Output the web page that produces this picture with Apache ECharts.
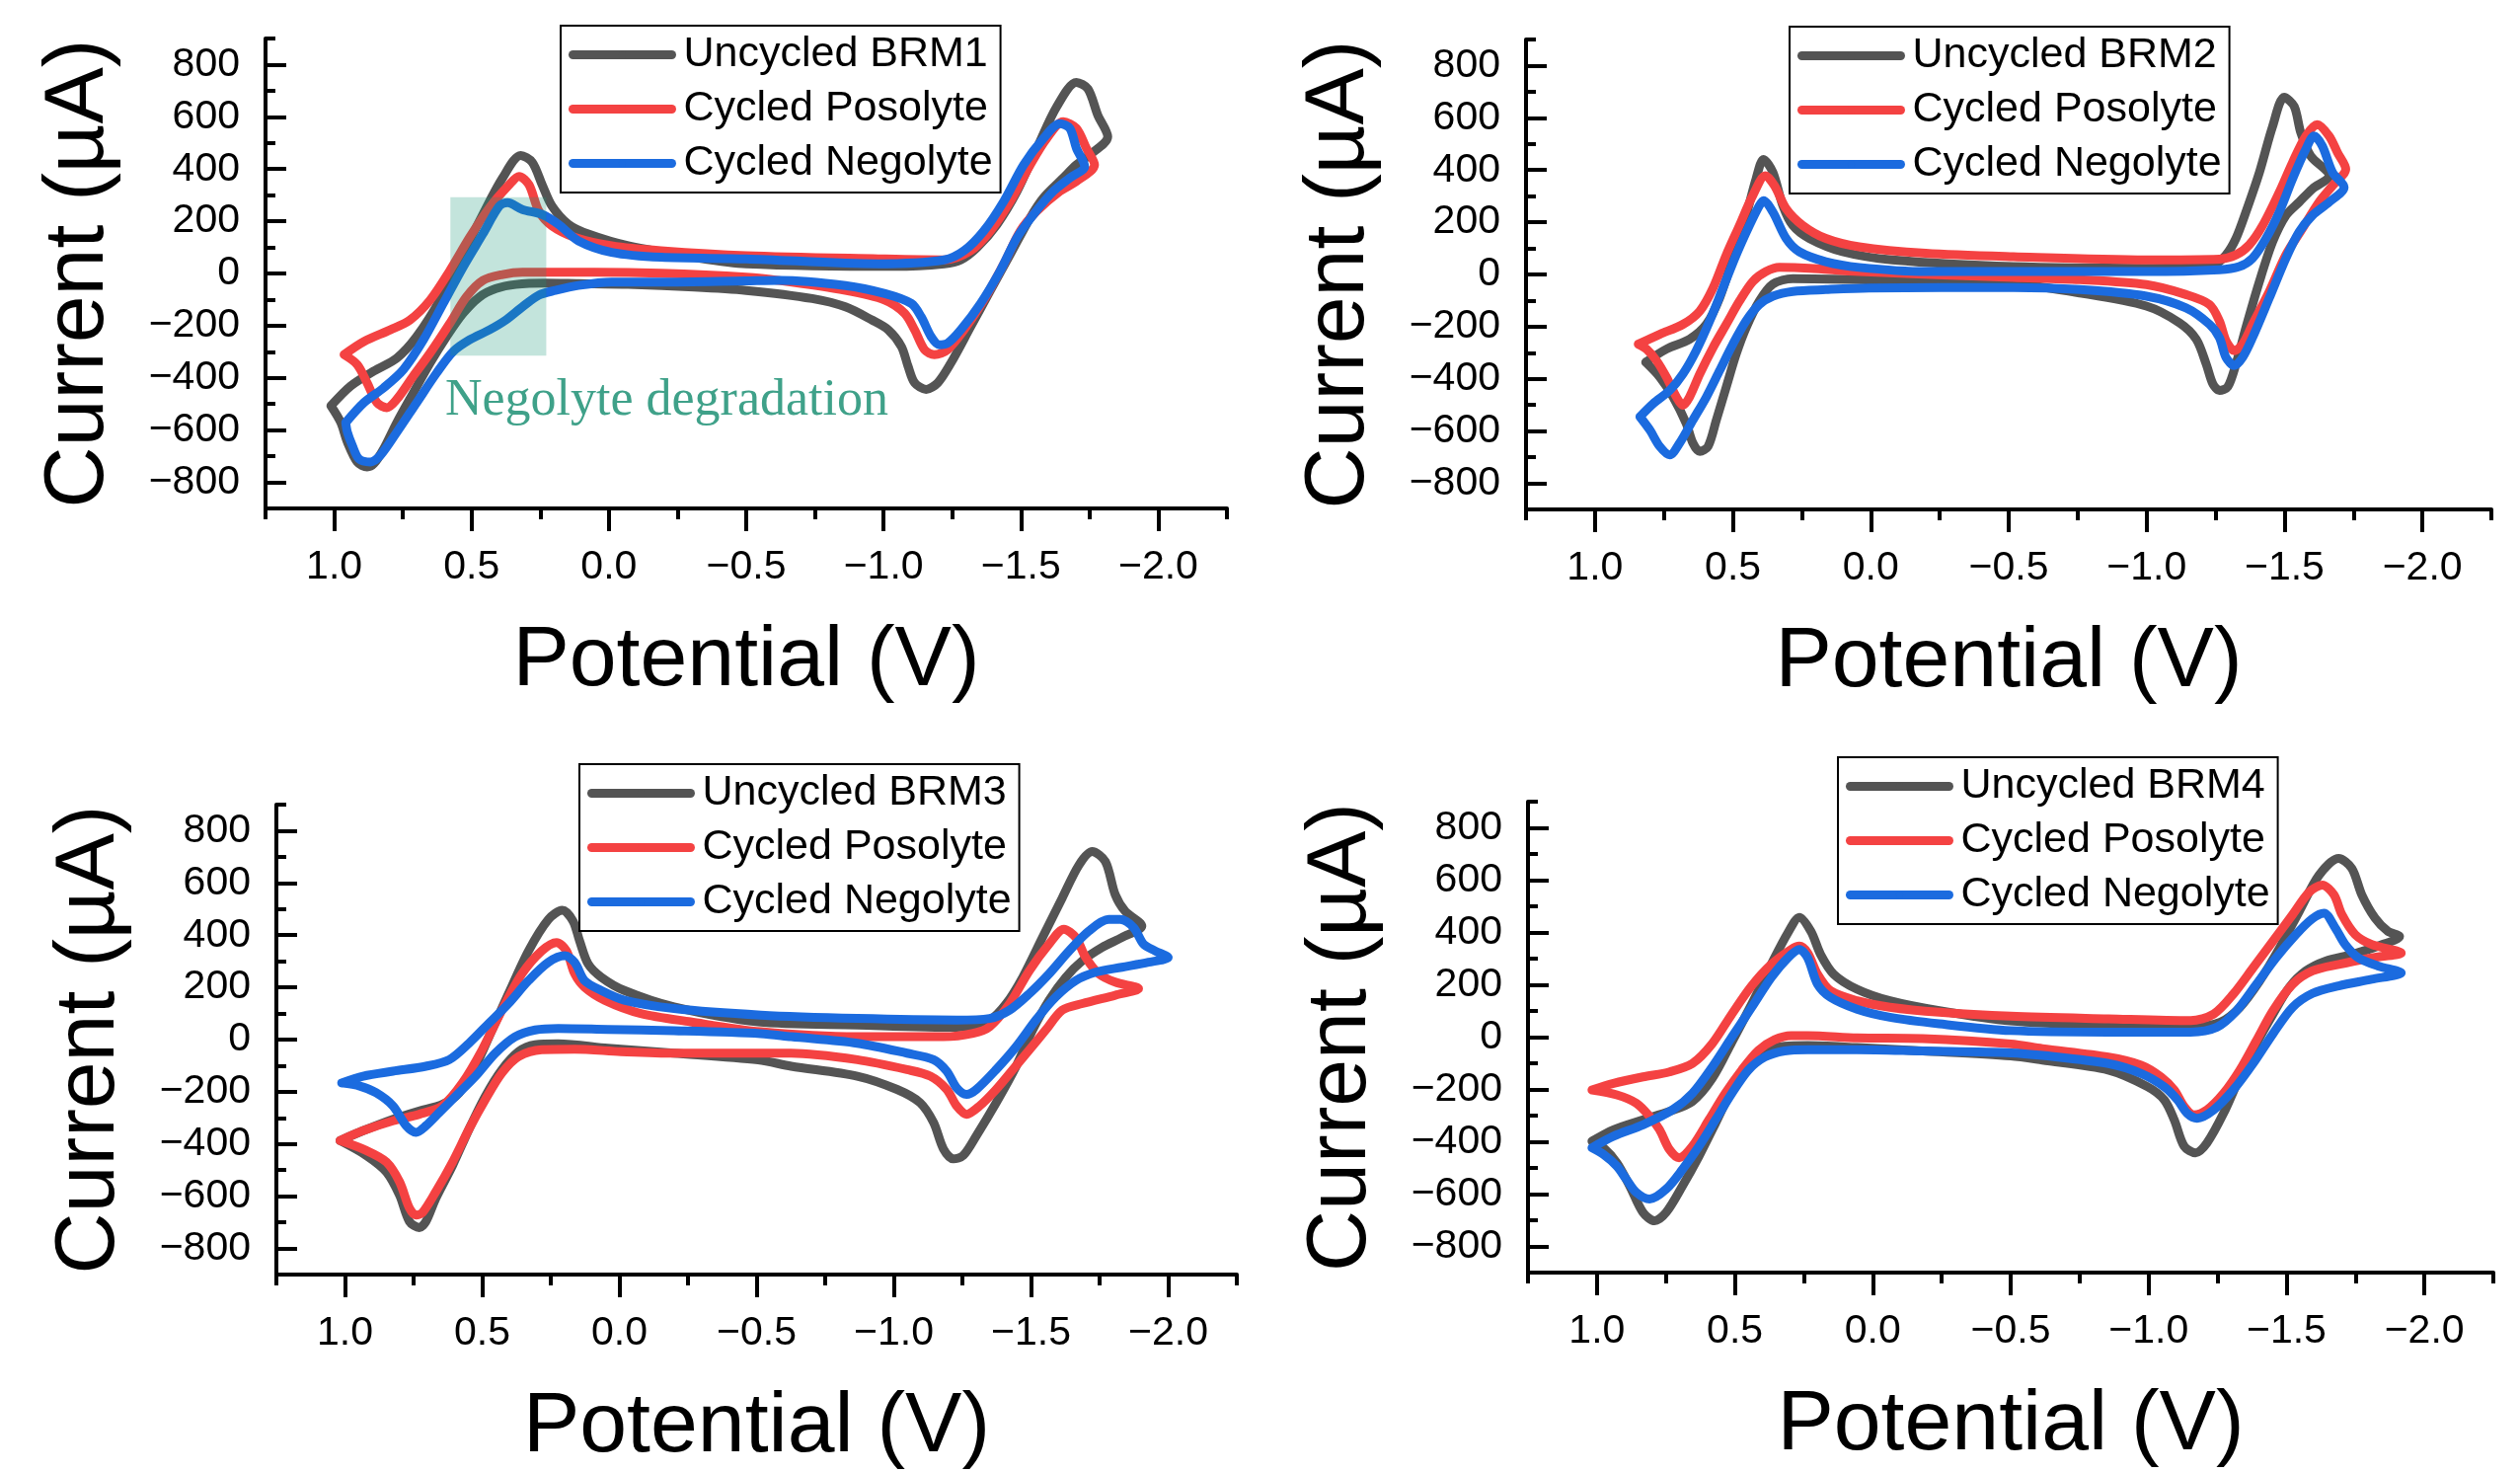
<!DOCTYPE html>
<html><head><meta charset="utf-8">
<script src="https://cdn.jsdelivr.net/npm/echarts@6/dist/echarts.min.js"></script>
<style>html,body{margin:0;padding:0;background:#fff;}#c{width:2553px;height:1492px;}</style>
</head><body><div id="c"></div>
<script>
// ---- tick values ----
const xMajorTicks = [1.0, 0.5, 0, -0.5, -1.0, -1.5, -2.0];
const xMinorTicks = [1.25, 0.75, 0.25, -0.25, -0.75, -1.25, -1.75, -2.25];
const yMajorTicks = [-800, -600, -400, -200, 0, 200, 400, 600, 800];
const yMinorTicks = [-900, -700, -500, -300, -100, 100, 300, 500, 700, 900];
const seriesNames = ['Cycled Posolyte', 'Cycled Negolyte'];
const uncycledNames = ['Uncycled BRM1', 'Uncycled BRM2', 'Uncycled BRM3', 'Uncycled BRM4'];

// ---- panel 1 (BRM1) : [potential V, current uA] ----
const brm1Uncycled = [[1.012,-507],[0.94,-431],[0.856,-374],[0.772,-324],[0.70,-242],[0.615,-102],[0.531,75],[0.459,226],[0.387,366],[0.321,452],[0.279,426],[0.243,340],[0.207,258],[0.147,188],[0.075,151],[-0.07,106],[-0.31,62],[-0.5,37],[-1.041,27],[-1.221,37],[-1.281,52],[-1.341,100],[-1.413,188],[-1.486,315],[-1.558,479],[-1.63,638],[-1.702,732],[-1.744,707],[-1.78,606],[-1.816,524],
[-1.75,454],[-1.702,416],[-1.654,366],[-1.582,290],[-1.534,214],[-1.462,75],[-1.389,-65],[-1.317,-204],[-1.245,-343],[-1.197,-419],[-1.155,-444],[-1.113,-419],[-1.089,-355],[-1.065,-280],[-1.017,-216],[-0.957,-178],[-0.861,-128],[-0.74,-96],[-0.5,-65],[-0.31,-52],[-0.07,-42],[0.111,-39],[0.231,-37],[0.339,-42],[0.411,-58],[0.471,-90],[0.531,-153],[0.591,-242],[0.651,-343],[0.712,-457],[0.772,-571],[0.82,-672],[0.856,-729],[0.88,-741],[0.916,-722],[0.952,-646],[0.976,-571],[1.012,-507]];
const brm1Posolyte = [[0.964,-311],[0.892,-261],[0.796,-216],[0.724,-178],[0.651,-102],[0.579,11],[0.507,138],[0.435,252],[0.363,340],[0.327,372],[0.291,340],[0.255,239],[0.207,182],[0.123,138],[-0.01,106],[-0.19,87],[-0.5,68],[-0.981,56],[-1.221,52],[-1.317,87],[-1.389,163],[-1.462,277],[-1.534,416],[-1.594,517],[-1.654,581],[-1.702,556],[-1.738,480],[-1.768,416],
[-1.702,353],[-1.642,315],[-1.558,239],[-1.498,163],[-1.438,37],[-1.365,-102],[-1.293,-216],[-1.233,-292],[-1.185,-311],[-1.149,-292],[-1.113,-216],[-1.077,-153],[-1.005,-102],[-0.861,-65],[-0.62,-27],[-0.5,-14],[-0.19,1],[0.05,5],[0.231,5],[0.315,5],[0.387,-4],[0.459,-27],[0.519,-90],[0.579,-191],[0.651,-305],[0.712,-393],[0.772,-482],[0.808,-514],[0.844,-495],[0.88,-419],[0.916,-349],[0.964,-311]];
const brm1Negolyte = [[0.958,-571],[0.892,-495],[0.82,-438],[0.748,-368],[0.675,-254],[0.603,-115],[0.531,24],[0.459,151],[0.399,258],[0.369,271],[0.315,245],[0.243,226],[0.183,188],[0.111,125],[-0.01,81],[-0.19,62],[-0.5,56],[-0.981,37],[-1.221,52],[-1.293,87],[-1.365,163],[-1.438,277],[-1.51,416],[-1.582,517],[-1.642,574],[-1.678,556],[-1.702,480],[-1.732,410],
[-1.678,366],[-1.618,315],[-1.546,226],[-1.486,138],[-1.425,11],[-1.353,-115],[-1.281,-216],[-1.233,-267],[-1.203,-273],[-1.173,-242],[-1.137,-166],[-1.101,-115],[-1.005,-77],[-0.861,-46],[-0.62,-26],[-0.5,-28],[-0.19,-33],[-0.01,-33],[0.111,-46],[0.195,-65],[0.255,-83],[0.315,-128],[0.375,-178],[0.435,-216],[0.507,-254],[0.567,-299],[0.627,-381],[0.7,-495],[0.772,-608],[0.832,-697],[0.868,-722],[0.91,-710],[0.934,-659],[0.952,-608],[0.958,-571]];
const degradationBox = [[0.577, 292], [0.228, -315]];
const degradationLabel = [[0.60, -490]];

// ---- panel 2 (BRM2) ----
const brm2Uncycled = [[0.816,-336],[0.741,-286],[0.657,-248],[0.596,-191],[0.548,-90],[0.5,62],[0.452,226],[0.416,366],[0.389,441],[0.355,391],[0.319,264],[0.283,188],[0.223,138],[0.102,87],[-0.078,56],[-0.517,30],[-0.999,24],[-1.24,34],[-1.288,75],[-1.324,138],[-1.36,239],[-1.409,391],[-1.457,568],[-1.499,679],[-1.535,644],[-1.559,543],[-1.595,454],[-1.662,378],
[-1.601,328],[-1.553,277],[-1.505,226],[-1.457,125],[-1.409,-27],[-1.36,-204],[-1.324,-343],[-1.294,-431],[-1.264,-444],[-1.24,-419],[-1.216,-343],[-1.18,-248],[-1.119,-185],[-0.999,-121],[-0.758,-71],[-0.517,-37],[0.042,-20],[0.283,-16],[0.355,-37],[0.404,-102],[0.452,-204],[0.488,-305],[0.524,-431],[0.56,-558],[0.59,-659],[0.62,-678],[0.645,-646],[0.669,-571],[0.717,-469],[0.765,-393],[0.816,-336]];
const brm2Posolyte = [[0.843,-267],[0.765,-229],[0.681,-191],[0.62,-140],[0.572,-52],[0.524,75],[0.476,188],[0.428,302],[0.382,378],[0.349,340],[0.307,252],[0.247,188],[0.163,138],[0.042,106],[-0.199,81],[-0.517,68],[-0.999,56],[-1.264,59],[-1.324,75],[-1.372,113],[-1.421,188],[-1.481,315],[-1.529,429],[-1.577,530],[-1.619,574],[-1.662,530],[-1.692,467],[-1.722,404],
[-1.674,340],[-1.625,277],[-1.565,176],[-1.505,75],[-1.445,-65],[-1.384,-191],[-1.348,-267],[-1.318,-292],[-1.288,-254],[-1.264,-178],[-1.228,-115],[-1.143,-77],[-0.999,-39],[-0.758,-20],[-0.517,-11],[0.042,11],[0.223,24],[0.331,27],[0.38,11],[0.428,-27],[0.476,-102],[0.524,-191],[0.572,-280],[0.62,-381],[0.657,-469],[0.681,-501],[0.705,-469],[0.741,-393],[0.777,-330],[0.813,-286],[0.843,-267]];
const brm2Negolyte = [[0.837,-545],[0.789,-495],[0.729,-444],[0.681,-381],[0.633,-292],[0.584,-178],[0.536,-52],[0.488,75],[0.44,188],[0.404,264],[0.389,283],[0.355,239],[0.307,138],[0.259,87],[0.163,49],[0.042,27],[-0.199,11],[-0.517,11],[-0.999,11],[-1.264,18],[-1.336,30],[-1.384,62],[-1.433,138],[-1.481,239],[-1.529,366],[-1.577,479],[-1.607,530],[-1.637,492],[-1.674,391],[-1.716,334],
[-1.662,277],[-1.601,226],[-1.553,163],[-1.505,62],[-1.445,-90],[-1.384,-242],[-1.348,-318],[-1.318,-349],[-1.288,-318],[-1.264,-242],[-1.228,-191],[-1.143,-128],[-0.999,-83],[-0.758,-58],[-0.517,-50],[0.006,-52],[0.163,-58],[0.283,-65],[0.355,-83],[0.404,-115],[0.452,-178],[0.5,-267],[0.548,-368],[0.596,-469],[0.645,-558],[0.693,-646],[0.729,-691],[0.765,-659],[0.801,-596],[0.837,-545]];

// ---- panel 3 (BRM3) ----
const brm3Uncycled = [[1.018,-387],[0.934,-349],[0.825,-305],[0.729,-273],[0.645,-248],[0.584,-204],[0.524,-102],[0.464,37],[0.404,176],[0.331,340],[0.259,460],[0.208,495],[0.169,454],[0.145,378],[0.114,290],[0.066,239],[-0.018,188],[-0.199,125],[-0.506,68],[-0.867,56],[-1.229,47],[-1.349,75],[-1.41,138],[-1.47,239],[-1.542,391],[-1.614,543],[-1.675,669],[-1.723,720],[-1.771,682],[-1.807,555],[-1.843,492],[-1.904,435],
[-1.831,391],[-1.759,353],[-1.687,302],[-1.627,239],[-1.566,151],[-1.506,37],[-1.446,-102],[-1.373,-242],[-1.301,-368],[-1.253,-444],[-1.217,-457],[-1.181,-419],[-1.145,-318],[-1.096,-242],[-1.012,-191],[-0.867,-140],[-0.626,-102],[-0.506,-78],[-0.199,-52],[0.042,-33],[0.223,-16],[0.307,-20],[0.367,-46],[0.428,-115],[0.488,-216],[0.548,-343],[0.608,-482],[0.669,-608],[0.705,-697],[0.729,-720],[0.765,-697],[0.801,-596],[0.849,-507],[0.922,-444],[1.018,-387]];
const brm3Posolyte = [[1.018,-387],[0.934,-349],[0.825,-311],[0.729,-286],[0.645,-254],[0.572,-166],[0.5,-39],[0.428,113],[0.355,252],[0.283,340],[0.229,372],[0.193,340],[0.163,252],[0.127,201],[0.054,151],[-0.078,100],[-0.259,68],[-0.515,30],[-0.867,11],[-1.181,11],[-1.289,24],[-1.349,49],[-1.422,138],[-1.494,264],[-1.566,366],[-1.62,423],[-1.663,391],[-1.699,315],[-1.747,252],[-1.807,220],[-1.892,195],
[-1.807,170],[-1.687,138],[-1.614,113],[-1.554,37],[-1.494,-39],[-1.434,-115],[-1.373,-191],[-1.313,-254],[-1.265,-286],[-1.229,-254],[-1.193,-191],[-1.133,-140],[-1.048,-115],[-0.867,-77],[-0.626,-52],[-0.515,-52],[-0.199,-52],[-0.006,-46],[0.163,-37],[0.283,-39],[0.367,-65],[0.428,-128],[0.488,-229],[0.548,-343],[0.608,-469],[0.669,-583],[0.717,-662],[0.741,-672],[0.765,-646],[0.801,-545],[0.849,-469],[0.922,-425],[1.018,-387]];
const brm3Negolyte = [[1.012,-166],[0.934,-140],[0.825,-121],[0.705,-102],[0.62,-77],[0.548,-14],[0.476,62],[0.404,138],[0.331,226],[0.259,296],[0.199,321],[0.163,296],[0.127,226],[0.066,188],[-0.018,151],[-0.199,119],[-0.515,94],[-0.867,81],[-1.229,75],[-1.349,81],[-1.422,113],[-1.494,176],[-1.566,252],[-1.639,340],[-1.711,416],[-1.783,460],[-1.825,460],[-1.874,429],[-1.91,366],[-1.952,340],[-2.0,315],
[-1.928,296],[-1.831,277],[-1.735,258],[-1.663,226],[-1.59,163],[-1.518,75],[-1.446,-27],[-1.373,-115],[-1.301,-191],[-1.265,-210],[-1.229,-185],[-1.193,-121],[-1.145,-77],[-1.048,-52],[-0.867,-14],[-0.626,11],[-0.515,23],[-0.199,34],[0.042,39],[0.223,43],[0.307,37],[0.38,11],[0.452,-52],[0.524,-140],[0.596,-216],[0.657,-280],[0.705,-330],[0.741,-355],[0.777,-330],[0.825,-254],[0.886,-204],[0.946,-178],[1.012,-166]];

// ---- panel 4 (BRM4) ----
const brm4Uncycled = [[1.018,-398],[0.94,-354],[0.833,-316],[0.737,-284],[0.654,-246],[0.582,-158],[0.511,-19],[0.439,126],[0.368,278],[0.308,398],[0.266,458],[0.224,404],[0.189,316],[0.141,240],[0.057,183],[-0.062,139],[-0.241,101],[-0.5,62],[-0.854,44],[-1.152,38],[-1.26,57],[-1.331,114],[-1.403,215],[-1.475,341],[-1.546,480],[-1.618,619],[-1.689,683],[-1.737,645],[-1.773,544],[-1.821,455],[-1.868,404],[-1.91,385],
[-1.832,348],[-1.737,316],[-1.642,291],[-1.57,253],[-1.51,190],[-1.451,88],[-1.391,-25],[-1.331,-152],[-1.272,-291],[-1.212,-404],[-1.17,-442],[-1.129,-417],[-1.093,-316],[-1.057,-240],[-0.997,-190],[-0.854,-126],[-0.615,-88],[-0.5,-72],[-0.181,-53],[0.057,-40],[0.236,-32],[0.32,-35],[0.391,-51],[0.451,-101],[0.511,-202],[0.57,-329],[0.63,-455],[0.69,-569],[0.749,-670],[0.791,-702],[0.833,-670],[0.881,-569],[0.928,-480],[0.976,-423],[1.018,-398]];
const brm4Posolyte = [[1.018,-202],[0.94,-177],[0.833,-152],[0.737,-133],[0.654,-101],[0.582,-25],[0.511,88],[0.439,196],[0.368,278],[0.296,335],[0.266,348],[0.236,322],[0.2,240],[0.153,177],[0.057,139],[-0.062,114],[-0.241,95],[-0.5,80],[-0.854,70],[-1.152,63],[-1.236,88],[-1.307,164],[-1.379,265],[-1.451,367],[-1.522,468],[-1.582,554],[-1.63,581],[-1.672,544],[-1.701,468],[-1.749,392],[-1.809,354],[-1.916,322],
[-1.809,303],[-1.689,278],[-1.594,253],[-1.522,202],[-1.451,101],[-1.391,-13],[-1.331,-126],[-1.272,-215],[-1.212,-278],[-1.164,-297],[-1.129,-265],[-1.093,-202],[-1.045,-152],[-0.973,-107],[-0.854,-76],[-0.615,-44],[-0.5,-26],[-0.181,-6],[0.057,-3],[0.236,6],[0.296,6],[0.356,-10],[0.415,-51],[0.475,-126],[0.535,-215],[0.594,-316],[0.654,-417],[0.702,-461],[0.737,-430],[0.773,-354],[0.809,-303],[0.857,-253],[0.928,-221],[1.018,-202]];
const brm4Negolyte = [[1.018,-423],[0.94,-379],[0.833,-335],[0.726,-278],[0.654,-215],[0.582,-114],[0.511,0],[0.439,114],[0.368,228],[0.308,303],[0.266,335],[0.236,303],[0.2,202],[0.153,152],[0.057,107],[-0.062,76],[-0.241,51],[-0.5,25],[-0.854,19],[-1.152,19],[-1.248,38],[-1.319,101],[-1.391,202],[-1.462,303],[-1.534,392],[-1.594,453],[-1.636,474],[-1.677,417],[-1.713,354],[-1.761,303],[-1.832,272],[-1.916,246],
[-1.809,221],[-1.689,196],[-1.594,167],[-1.522,114],[-1.451,13],[-1.379,-101],[-1.307,-202],[-1.236,-278],[-1.176,-310],[-1.14,-291],[-1.105,-240],[-1.057,-190],[-0.973,-139],[-0.854,-101],[-0.615,-70],[-0.5,-60],[-0.181,-53],[0.057,-48],[0.236,-48],[0.32,-53],[0.391,-76],[0.451,-126],[0.511,-215],[0.57,-316],[0.63,-417],[0.69,-506],[0.749,-581],[0.809,-619],[0.857,-594],[0.893,-544],[0.928,-493],[0.976,-449],[1.018,-423]];

const panels = [
  {uncycled: brm1Uncycled, pos: brm1Posolyte, neg: brm1Negolyte},
  {uncycled: brm2Uncycled, pos: brm2Posolyte, neg: brm2Negolyte},
  {uncycled: brm3Uncycled, pos: brm3Posolyte, neg: brm3Negolyte},
  {uncycled: brm4Uncycled, pos: brm4Posolyte, neg: brm4Negolyte}
];

// ---- layout & style ----
const grids = [
  {left: 269, top: 39, width: 974, height: 476},
  {left: 1546, top: 40, width: 978, height: 476},
  {left: 280, top: 815, width: 973, height: 476},
  {left: 1548, top: 812, width: 978, height: 477}
];
const legendPos = [{left: 568, top: 26}, {left: 1813, top: 27}, {left: 587, top: 774}, {left: 1862, top: 767}];
const colors = {uncycled: '#545454', pos: '#F44242', neg: '#1B6BDF'};
const FONT = '"Liberation Sans", Arial, sans-serif';
const fmtMinus = v => String(v).replace('-', '\u2212');

const xAxes = [], yAxes = [], series = [], legends = [];
grids.forEach((g, i) => {
  xAxes.push({
    gridIndex: i, type: 'value', min: -2.25, max: 1.25, inverse: true, position: 'bottom',
    name: 'Potential (V)', nameLocation: 'middle', nameGap: 112,
    nameTextStyle: {fontFamily: FONT, fontSize: 86, color: '#000'},
    axisLine: {show: true, onZero: false, lineStyle: {color: '#000', width: 4}},
    axisTick: {show: true, inside: false, length: 23, customValues: xMajorTicks, lineStyle: {color: '#000', width: 4}},
    axisLabel: {show: true, customValues: xMajorTicks, margin: 39, fontFamily: FONT, fontSize: 41, color: '#000',
      formatter: v => fmtMinus(Number(v).toFixed(1))},
    splitLine: {show: false}
  });
  xAxes.push({
    gridIndex: i, type: 'value', min: -2.25, max: 1.25, inverse: true, position: 'bottom',
    axisLine: {show: false, onZero: false},
    axisTick: {show: true, inside: false, length: 11, customValues: xMinorTicks, lineStyle: {color: '#000', width: 4}},
    axisLabel: {show: false}, splitLine: {show: false}
  });
  yAxes.push({
    gridIndex: i, type: 'value', min: -900, max: 900, position: 'left',
    name: 'Current (\u00B5A)', nameLocation: 'middle', nameGap: 146,
    nameTextStyle: {fontFamily: FONT, fontSize: 86, color: '#000'},
    axisLine: {show: true, onZero: false, lineStyle: {color: '#000', width: 4}},
    axisTick: {show: true, inside: true, length: 21, customValues: yMajorTicks, lineStyle: {color: '#000', width: 4}},
    axisLabel: {show: true, customValues: yMajorTicks, margin: 26, fontFamily: FONT, fontSize: 41, color: '#000',
      formatter: v => fmtMinus(v)},
    splitLine: {show: false}
  });
  yAxes.push({
    gridIndex: i, type: 'value', min: -900, max: 900, position: 'left',
    axisLine: {show: false, onZero: false},
    axisTick: {show: true, inside: true, length: 10, customValues: yMinorTicks, lineStyle: {color: '#000', width: 4}},
    axisLabel: {show: false}, splitLine: {show: false}
  });
  const p = panels[i];
  const mk = (name, data, color) => ({
    type: 'line', name, data, xAxisIndex: 2 * i, yAxisIndex: 2 * i,
    symbol: 'none', smooth: 0.3, animation: false,
    lineStyle: {color, width: 9, cap: 'round', join: 'round'},
    itemStyle: {color}
  });
  series.push(mk(uncycledNames[i], p.uncycled, colors.uncycled));
  series.push(mk(seriesNames[0], p.pos, colors.pos));
  series.push(mk(seriesNames[1], p.neg, colors.neg));
  legends.push({
    left: legendPos[i].left, top: legendPos[i].top, orient: 'vertical',
    data: [uncycledNames[i], seriesNames[0], seriesNames[1]],
    itemWidth: 100, itemHeight: 9, itemGap: 12,
    padding: [8, 8, 8, 8],
    borderColor: '#000', borderWidth: 2, backgroundColor: '#fff',
    lineStyle: {width: 9, cap: 'round'},
    selectedMode: false,
    textStyle: {fontFamily: FONT, fontSize: 43, color: '#000', padding: [0, 0, 0, 7]}
  });
});

// degradation highlight (panel 1)
series.push({
  type: 'line', name: 'degradationBox', data: degradationBox, xAxisIndex: 0, yAxisIndex: 0,
  symbol: 'none', lineStyle: {opacity: 0}, z: 10, silent: true, animation: false,
  markArea: {silent: true, z: 20, itemStyle: {color: 'rgba(22,150,120,0.26)'},
    data: [[{coord: degradationBox[0]}, {coord: degradationBox[1]}]]}
});
series.push({
  type: 'scatter', name: 'degradationLabel', data: degradationLabel, xAxisIndex: 0, yAxisIndex: 0,
  symbolSize: 2, itemStyle: {color: 'rgba(0,0,0,0)'}, z: 11, silent: true, animation: false,
  label: {show: true, position: 'right', distance: 0, formatter: 'Negolyte degradation',
    fontFamily: '"Liberation Serif", "DejaVu Serif", serif', fontSize: 52, color: '#0F8A6C'}
});

const chart = echarts.init(document.getElementById('c'), null, {renderer: 'canvas'});
chart.setOption({
  backgroundColor: '#fff',
  animation: false,
  grid: grids,
  xAxis: xAxes,
  yAxis: yAxes,
  legend: legends,
  series: series
});
</script></body></html>
